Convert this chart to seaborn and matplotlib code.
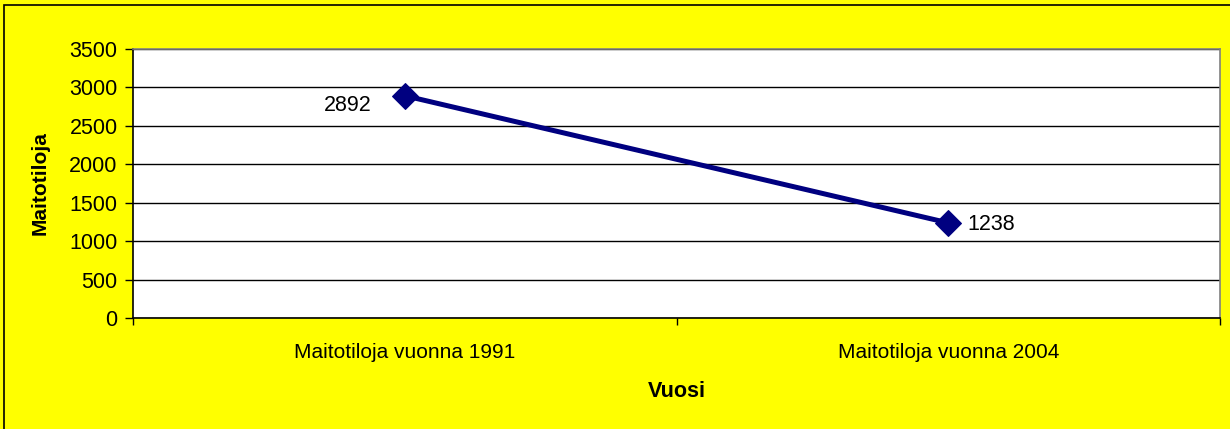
import matplotlib
matplotlib.use("Agg")
import matplotlib.pyplot as plt
from matplotlib.patches import Rectangle
import seaborn as sns
import pandas as pd

categories = ["Maitotiloja vuonna 1991", "Maitotiloja vuonna 2004"]
values = [2892, 1238]
yticks = [0, 500, 1000, 1500, 2000, 2500, 3000, 3500]

YELLOW = "#FFFF00"
NAVY = "#000080"

sns.set_style("white")
plt.rcParams["font.family"] = ["Liberation Sans", "DejaVu Sans"]
plt.rcParams["text.color"] = "black"
plt.rcParams["axes.labelcolor"] = "black"
plt.rcParams["xtick.color"] = "black"
plt.rcParams["ytick.color"] = "black"

df = pd.DataFrame({"x": range(len(categories)), "value": values})

fig = plt.figure(figsize=(12.3, 4.29), dpi=100)
fig.patch.set_facecolor(YELLOW)
ax = fig.add_axes([133 / 1230, 1 - 318 / 429, 1087 / 1230, 269 / 429])
ax.set_facecolor("white")

sns.lineplot(data=df, x="x", y="value", ax=ax, color=NAVY, lw=3.6,
             marker="D", markersize=13, markeredgecolor=NAVY, zorder=3)

ax.set_xlim(-0.5, len(categories) - 0.5)
ax.set_ylim(0, 3500)
ax.set_yticks(yticks)
ax.set_xticks(range(len(categories)))
ax.set_xticklabels(categories, fontsize=15)
ax.set_xticks([i - 0.5 for i in range(len(categories) + 1)], minor=True)
ax.tick_params(axis="x", which="major", length=0, pad=18)
ax.tick_params(axis="x", which="minor", length=5, width=1, color="black",
               direction="out", bottom=True)
ax.tick_params(axis="y", length=6, width=1, color="black", direction="out",
               left=True, labelsize=15.5, pad=5)
ax.grid(axis="y", color="black", lw=1)
ax.grid(axis="x", visible=False)

for side in ["left", "bottom"]:
    ax.spines[side].set_color("black")
    ax.spines[side].set_linewidth(1.2)
for side in ["top", "right"]:
    ax.spines[side].set_color("#808080")
    ax.spines[side].set_linewidth(1.2)

ax.set_ylabel("Maitotiloja", fontsize=15, fontweight="bold", labelpad=14)
ax.set_xlabel("Vuosi", fontsize=15.5, fontweight="bold", labelpad=14)

for i, v in enumerate(values):
    if i == 0:
        ax.annotate(str(v), (i, v), xytext=(-24, -7), textcoords="offset points",
                    ha="right", va="center", fontsize=15.5)
    else:
        ax.annotate(str(v), (i, v), xytext=(14, -1), textcoords="offset points",
                    ha="left", va="center", fontsize=15.5)

fig.patches.append(Rectangle((4 / 1230, -0.05), 1.1, 1 - 5 / 429 + 0.05,
                             transform=fig.transFigure, fill=False,
                             edgecolor="black", lw=1.2))

fig.savefig("out.png", dpi=100, facecolor=YELLOW)
